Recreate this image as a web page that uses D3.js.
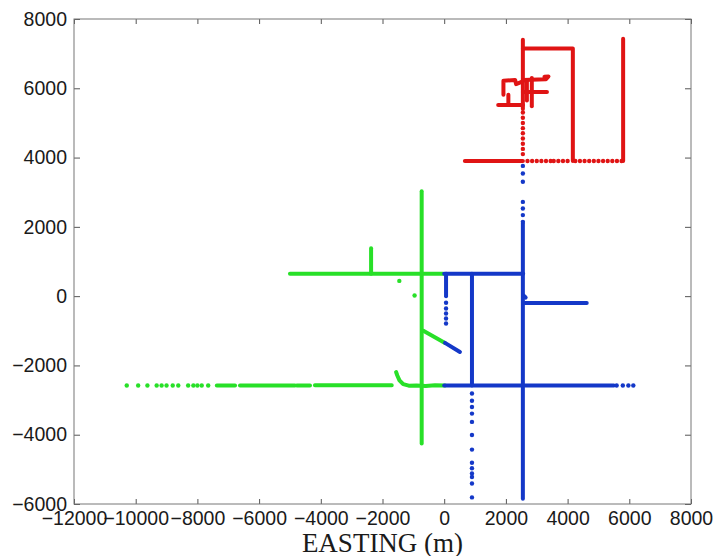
<!DOCTYPE html>
<html>
<head>
<meta charset="utf-8">
<script src="https://cdn.jsdelivr.net/npm/d3@7"></script>
<style>
  body { margin: 0; background: #fff; }
  .tick text { font-family: "Liberation Sans", Arial, sans-serif; font-size: 19.5px; fill: #1a1a1a; }
  .tick line { stroke: #555; }
  .domain { display: none; }
</style>
</head>
<body>
<svg id="chart"></svg>
<script>
const width = 726;
const height = 556;

const xTicks = [-12000, -10000, -8000, -6000, -4000, -2000, 0, 2000, 4000, 6000, 8000];
const yTicks = [-6000, -4000, -2000, 0, 2000, 4000, 6000, 8000];

// dense runs of fixes (they read as solid lines)
const greenTracks = [
  [[-5000, 650], [-30, 650]],
  [[-2370, 650], [-2370, 1380]],
  [[-730, 3030], [-730, -4250]],
  [[-676, -1000], [26, -1350]],
  [[-7370, -2580], [-6780, -2580]],
  [[-6620, -2580], [-4840, -2580]],
  [[-4780, -2580], [-4350, -2580]],
  [[-4190, -2575], [-1700, -2570]],
  [[-1560, -2190], [-1520, -2290], [-1450, -2430], [-1330, -2540], [-1150, -2585], [-900, -2580], [-600, -2595], [-300, -2575], [30, -2580]]
];
// sparse fixes
const greenDots = [
  [-10290, -2580], [-9920, -2580], [-9620, -2580], [-9320, -2580], [-9160, -2580],
  [-9000, -2580], [-8800, -2580], [-8620, -2580], [-8300, -2580], [-8130, -2580],
  [-8000, -2580], [-7860, -2580], [-7650, -2580], [-1455, 440], [-960, 20]
];

const blueTracks = [
  [[0, 650], [2560, 650]],
  [[60, 650], [60, 0]],
  [[900, 650], [900, -2580]],
  [[2550, 2100], [2550, -5850]],
  [[26, -1350], [510, -1610]],
  [[0, -2580], [5500, -2580]],
  [[2620, -200], [4620, -200]],
  [[2570, 20], [2640, -40]]
];
const blueDots = [
  [60, -190], [60, -355], [60, -500], [60, -645], [60, -790],
  [2550, 3760], [2550, 3540], [2550, 3300], [2550, 2720], [2550, 2530], [2550, 2340], [2550, 2145],
  [900, -2810], [900, -3020], [900, -3200], [900, -3390], [900, -3630], [900, -4010], [900, -4430],
  [900, -4810], [900, -4970], [900, -5120], [900, -5220], [900, -5410], [900, -5810],
  [5590, -2580], [5790, -2580], [5970, -2580], [6130, -2580]
];

const redTracks = [
  [[2550, 7400], [2550, 5400]],
  [[2550, 7150], [4170, 7150], [4170, 3900]],
  [[5800, 7430], [5800, 3900]],
  [[670, 3900], [2550, 3900]],
  [[1750, 5520], [2550, 5520]],
  [[1920, 5810], [1920, 6220], [2300, 6240], [2330, 6120], [2550, 6200]],
  [[2080, 5810], [2080, 5530]],
  [[2840, 6300], [2840, 5480]],
  [[2550, 6240], [3300, 6260], [3380, 6340], [3250, 6330]],
  [[2550, 5890], [3330, 5890]],
  [[2680, 6200], [2680, 5650]]
];
const redDots = [
  [2550, 5300], [2550, 5150], [2550, 5000], [2550, 4850], [2550, 4700], [2550, 4550],
  [2550, 4400], [2550, 4250], [2550, 4100],
  [2700, 3900], [2850, 3900], [3000, 3900], [3150, 3900], [3300, 3900], [3450, 3900],
  [3550, 3900], [3700, 3900], [3850, 3900], [4000, 3900], [4250, 3900], [4400, 3900],
  [4550, 3900], [4700, 3900], [4850, 3900], [5000, 3900], [5150, 3900], [5300, 3900],
  [5450, 3900], [5600, 3900], [5750, 3900]
];

const green = "#28e028";
const blue = "#1438c8";
const red = "#e01414";

const margin = {top: 19, right: 35, bottom: 52, left: 74};

const svg = d3.select("#chart")
              .attr("width", width)
              .attr("height", height);

const xScale = d3.scaleLinear()
                 .domain([-12000, 8000])
                 .range([margin.left, width - margin.right]);
const yScale = d3.scaleLinear()
                 .domain([-6000, 8000])
                 .range([height - margin.bottom, margin.top]);

const fmt = d3.format("d");

// axes, ticks pointing in like matlab
svg.append("g")
   .attr("transform", `translate(0,${height - margin.bottom})`)
   .call(d3.axisBottom(xScale).tickValues(xTicks).tickFormat(fmt).tickSize(-5).tickPadding(7));
svg.append("g")
   .attr("transform", `translate(0,${margin.top})`)
   .call(d3.axisTop(xScale).tickValues(xTicks).tickFormat("").tickSize(-5));
svg.append("g")
   .attr("transform", `translate(${margin.left},0)`)
   .call(d3.axisLeft(yScale).tickValues(yTicks).tickFormat(fmt).tickSize(-6).tickPadding(7));
svg.append("g")
   .attr("transform", `translate(${width - margin.right},0)`)
   .call(d3.axisRight(yScale).tickValues(yTicks).tickFormat("").tickSize(-6));

svg.append("rect")
   .attr("x", margin.left)
   .attr("y", margin.top)
   .attr("width", width - margin.left - margin.right)
   .attr("height", height - margin.top - margin.bottom)
   .attr("fill", "none")
   .attr("stroke", "#777")
   .attr("stroke-width", 1);

const line = d3.line()
               .x(d => xScale(d[0]))
               .y(d => yScale(d[1]));

function drawSeries(tracks, dots, color) {
  const g = svg.append("g");
  g.selectAll("path")
   .data(tracks)
   .enter()
   .append("path")
     .attr("d", line)
     .attr("fill", "none")
     .attr("stroke", color)
     .attr("stroke-width", 4)
     .attr("stroke-linecap", "round")
     .attr("stroke-linejoin", "round");
  g.selectAll("circle")
   .data(dots)
   .enter()
   .append("circle")
     .attr("cx", d => xScale(d[0]))
     .attr("cy", d => yScale(d[1]))
     .attr("r", 2.2)
     .attr("fill", color);
}

drawSeries(greenTracks, greenDots, green);
drawSeries(blueTracks, blueDots, blue);
drawSeries(redTracks, redDots, red);

svg.append("text")
   .attr("x", (margin.left + width - margin.right) / 2)
   .attr("y", 552)
   .attr("text-anchor", "middle")
   .style("font-family", "'Liberation Serif', 'Times New Roman', serif")
   .style("font-size", "27px")
   .style("fill", "#1a1a1a")
   .text("EASTING (m)");
</script>
</body>
</html>
